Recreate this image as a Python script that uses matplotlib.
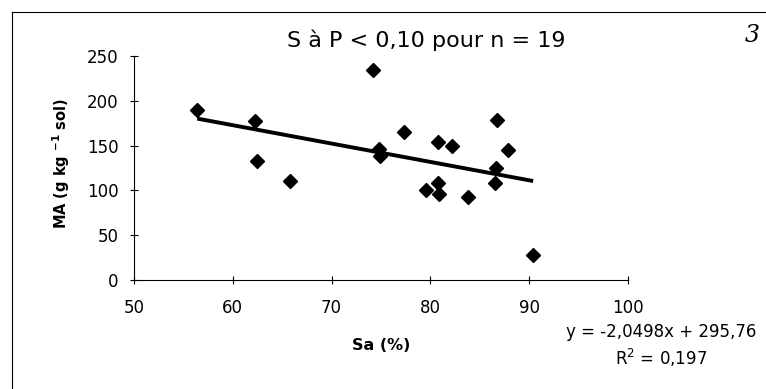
import numpy as np
import matplotlib
matplotlib.use("Agg")
import matplotlib.pyplot as plt
from matplotlib.lines import Line2D

plt.rcParams["font.family"] = ["DejaVu Sans"]

# Sa (%) and MA (g/kg sol)
sa = [56.4, 62.2, 62.4, 65.8, 74.2, 74.8, 74.9, 77.3, 79.6, 80.8,
      80.8, 80.9, 82.2, 83.8, 86.5, 86.6, 86.7, 87.9, 90.4]
ma = [190, 178, 133, 110, 234, 146, 138, 165, 101, 154,
      108, 96, 149, 93, 108, 125, 179, 145, 28]

# fitted trend reported on the chart
slope = -2.0498
intercept = 295.76
r2 = 0.197

x_ticks = [50, 60, 70, 80, 90, 100]
y_ticks = [0, 50, 100, 150, 200, 250]

W, H = 766, 389
fig = plt.figure(figsize=(W / 100, H / 100), dpi=100)
ax = fig.add_axes([134 / W, 1 - 280 / H, 494 / W, 224 / H])

# trend line over the data range
xs = np.array([min(sa), max(sa)])
ax.plot(xs, slope * xs + intercept, color="black", lw=2.8, solid_capstyle="butt")
ax.plot(sa, ma, linestyle="none", marker="D", ms=7.6, color="black", mec="black")

ax.set_xlim(50, 100)
ax.set_ylim(0, 250)
ax.set_xticks(x_ticks)
ax.set_yticks(y_ticks)
ax.tick_params(direction="inout", length=6, width=0.8, labelsize=12)
ax.tick_params(axis="x", pad=11)
ax.tick_params(axis="y", pad=8)
for side in ["top", "right"]:
  ax.spines[side].set_visible(False)
for side in ["left", "bottom"]:
  ax.spines[side].set_linewidth(0.8)

ax.set_xlabel("Sa (%)", fontsize=11.5, fontweight="bold", va="center")
ax.xaxis.set_label_coords(0.5, (280 - 345) / 224)
ax.set_ylabel(r"MA (g kg $^{\mathbf{-1}}$ sol)", fontsize=10.5, fontweight="bold", va="center")
ax.yaxis.set_label_coords((61 - 134) / 494, (280 - 163) / 224)

fig.text(426 / W, 1 - 40 / H, "S à P < 0,10 pour n = 19", fontsize=16,
         ha="center", va="center")
fig.text(752 / W, 1 - 35 / H, "3", fontsize=17, style="italic",
         ha="center", va="center", family="DejaVu Serif")
fig.text(661 / W, 1 - 332 / H, f"y = {slope:.4f}x + {intercept:.2f}".replace(".", ","),
         fontsize=12, ha="center", va="center")
fig.text(661 / W, 1 - 358 / H, f"R$^2$ = {r2:.3f}".replace(".", ","),
         fontsize=12, ha="center", va="center")

# outer frame (left and top edges visible)
fig.add_artist(Line2D([12 / W, 12 / W], [0, 1 - 12 / H], color="black", lw=0.8))
fig.add_artist(Line2D([12 / W, 1], [1 - 12 / H, 1 - 12 / H], color="black", lw=0.8))

fig.savefig("out.png", dpi=100, facecolor="white")
